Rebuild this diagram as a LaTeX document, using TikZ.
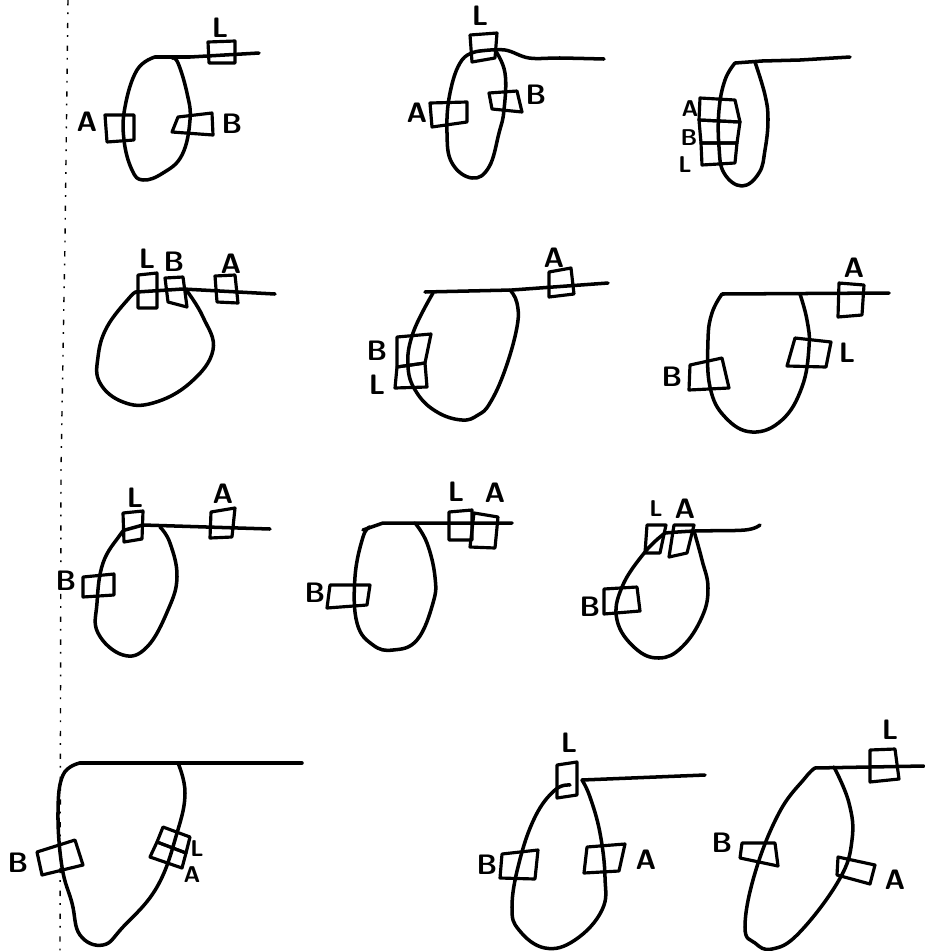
\documentclass[tikz,border=0pt]{standalone}
\usepackage{tikz}

\begin{document}
\begin{tikzpicture}[
  x=0.02cm, y=-0.02cm,
  tape/.style={line width=2pt, line cap=round, line join=round, black},
  clamp/.style={line width=1.8pt, line join=round, black},
  margin/.style={line width=0.8pt, black, dash pattern=on 3pt off 4pt on 1pt off 5pt},
  tag/.style={font=\fontsize{16}{16}\sffamily\bfseries, inner sep=0pt},
  smalltag/.style={font=\fontsize{13}{13}\sffamily\bfseries, inner sep=0pt}
]
\useasboundingbox (0,0) rectangle (924,951);

% margin line down the left side
\draw[margin] (68,0) -- (65,240) -- (61,470) -- (60,951);

% row 1, left
\draw[tape] (259,53) -- (190,57) -- (155,57);
\draw[tape] plot[smooth, tension=.7] coordinates {(155,57) (137,70) (125,107) (124,140) (132,170) (143,180) (163,173) (182,155) (190,120) (187,93) (178,63) (172,58)};
\draw[clamp] (208,42) -- (235,41) -- (235,63) -- (209,63) -- cycle;
\draw[clamp] (105,115) -- (134,115) -- (134,140) -- (107,142) -- cycle;
\draw[clamp] (178,117) -- (212,113) -- (213,135) -- (172,132) -- cycle;
\node[tag] (l1) at (220,28) {L};
\node[tag] (a1) at (87,122) {A};
\node[tag] (b1) at (232,124) {B};

% row 1, middle
\draw[tape] plot[smooth, tension=.6] coordinates {(604,59) (560,58) (529,58) (505,50) (480,51)};
\draw[tape] plot[smooth, tension=.7] coordinates {(480,51) (462,60) (450,93) (447,133) (452,163) (472,178) (489,167) (499,133) (504,110) (505,73) (495,50)};
\draw[clamp] (470,35) -- (497,33) -- (495,58) -- (472,62) -- cycle;
\draw[clamp] (430,103) -- (467,102) -- (467,122) -- (432,127) -- cycle;
\draw[clamp] (489,93) -- (517,91) -- (522,112) -- (492,109) -- cycle;
\node[tag] (l2) at (480,16) {L};
\node[tag] (a2) at (417,113) {A};
\node[tag] (b2) at (536,95) {B};

% row 1, right
\draw[tape] (850,57) -- (800,60) -- (762,61) -- (735,63);
\draw[tape] plot[smooth, tension=.7] coordinates {(735,63) (725,80) (719,110) (719,147) (724,173) (742,186) (759,173) (765,150) (768,120) (765,95) (755,62)};
\draw[clamp] (700,98) -- (735,100) -- (740,122) -- (699,120) -- cycle;
\draw[clamp] (699,120) -- (740,122) -- (737,143) -- (701,143) -- cycle;
\draw[clamp] (701,143) -- (737,143) -- (735,163) -- (702,165) -- cycle;
\node[smalltag] (a3) at (690,109) {A};
\node[smalltag] (b3) at (689,138) {B};
\node[smalltag] (l3) at (685,165) {L};

% row 2, left
\draw[tape] (275,294) -- (183,289) -- (137,292);
\draw[tape] plot[smooth, tension=.7] coordinates {(137,292) (130,297) (107,327) (98,357) (100,383) (123,402) (153,403) (190,383) (213,350) (203,317) (187,291)};
\draw[clamp] (138,275) -- (157,273) -- (157,308) -- (138,308) -- cycle;
\draw[clamp] (165,278) -- (183,277) -- (187,307) -- (168,302) -- cycle;
\draw[clamp] (215,276) -- (235,275) -- (238,303) -- (217,302) -- cycle;
\node[tag] (l4) at (147,259) {L};
\node[tag] (b4) at (174,262) {B};
\node[tag] (a4) at (231,264) {A};

% row 2, middle
\draw[tape] (608,283) -- (512,290) -- (425,292);
\draw[tape] plot[smooth, tension=.7] coordinates {(433,293) (413,333) (408,367) (417,393) (437,412) (462,420) (478,415) (490,403) (505,370) (517,327) (517,303) (510,290)};
\draw[clamp] (549,272) -- (571,268) -- (574,294) -- (549,297) -- cycle;
\draw[clamp] (397,337) -- (431,334) -- (425,363) -- (397,367) -- cycle;
\draw[clamp] (397,367) -- (425,363) -- (427,387) -- (395,388) -- cycle;
\node[tag] (a5) at (554,258) {A};
\node[tag] (b5) at (377,351) {B};
\node[tag] (l5) at (377,385) {L};

% row 2, right
\draw[tape] (889,293) -- (722,294);
\draw[tape] plot[smooth, tension=.7] coordinates {(722,294) (712,313) (708,340) (710,387) (725,417) (752,432) (782,420) (802,387) (809,347) (807,320) (800,294)};
\draw[clamp] (839,283) -- (864,285) -- (862,315) -- (838,317) -- cycle;
\draw[clamp] (795,338) -- (831,342) -- (826,367) -- (787,366) -- cycle;
\draw[clamp] (690,365) -- (722,358) -- (729,388) -- (689,390) -- cycle;
\node[tag] (a6) at (854,268) {A};
\node[tag] (l6) at (847,353) {L};
\node[tag] (b6) at (672,377) {B};

% row 3, left
\draw[tape] (270,529) -- (143,525) -- (125,530);
\draw[tape] plot[smooth, tension=.7] coordinates {(125,530) (120,535) (103,563) (97,603) (98,633) (123,655) (147,647) (168,610) (177,577) (170,543) (160,527)};
\draw[clamp] (123,513) -- (143,511) -- (142,539) -- (124,542) -- cycle;
\draw[clamp] (211,512) -- (235,508) -- (232,537) -- (210,538) -- cycle;
\draw[clamp] (83,577) -- (114,574) -- (114,595) -- (83,597) -- cycle;
\node[tag] (l7) at (135,498) {L};
\node[tag] (a7) at (223,494) {A};
\node[tag] (b7) at (66,581) {B};

% row 3, middle
\draw[tape] (512,523) -- (383,523) -- (363,530);
\draw[tape] plot[smooth, tension=.7] coordinates {(370,527) (363,537) (355,577) (357,623) (373,645) (393,650) (417,640) (433,603) (435,577) (427,543) (415,523)};
\draw[clamp] (449,512) -- (472,510) -- (472,540) -- (449,540) -- cycle;
\draw[clamp] (474,513) -- (498,517) -- (495,548) -- (470,547) -- cycle;
\draw[clamp] (330,585) -- (370,585) -- (367,605) -- (327,608) -- cycle;
\node[tag] (l8) at (456,492) {L};
\node[tag] (a8) at (495,493) {A};
\node[tag] (b8) at (315,593) {B};

% row 3, right
\draw[tape] plot[smooth, tension=.6] coordinates {(760,525) (745,530) (695,531) (665,533)};
\draw[tape] plot[smooth, tension=.7] coordinates {(665,533) (645,552) (622,587) (617,620) (635,648) (659,658) (682,647) (702,617) (708,588) (702,560) (694,531)};
\draw[clamp] (647,525) -- (666,525) -- (660,553) -- (645,553) -- cycle;
\draw[clamp] (674,525) -- (694,525) -- (687,553) -- (669,557) -- cycle;
\draw[clamp] (604,589) -- (637,587) -- (640,611) -- (604,614) -- cycle;
\node[smalltag] (l9) at (656,509) {L};
\node[tag] (a9) at (685,509) {A};
\node[tag] (b9) at (590,607) {B};

% row 4, left
\draw[tape] (302,763) -- (80,763);
\draw[tape] plot[smooth, tension=.7] coordinates {(80,763) (63,775) (58,813) (62,867) (72,903) (80,935) (103,945) (123,927) (157,887) (177,833) (185,793) (178,763)};
\draw[clamp] (37,852) -- (75,840) -- (83,865) -- (42,875) -- cycle;
\draw[clamp] (163,827) -- (190,837) -- (186,853) -- (157,842) -- cycle;
\draw[clamp] (157,842) -- (186,853) -- (182,868) -- (150,857) -- cycle;
\node[tag] (b10) at (18,863) {B};
\node[smalltag] (l10) at (197,849) {L};
\node[smalltag] (a10) at (192,875) {A};

% row 4, middle
\draw[tape] (705,775) -- (582,780);
\draw[tape] plot[smooth, tension=.7] coordinates {(570,785) (555,790) (535,817) (519,863) (512,907) (519,930) (545,948) (575,940) (602,910) (605,877) (600,833) (590,797) (582,780)};
\draw[clamp] (557,765) -- (577,762) -- (577,795) -- (557,798) -- cycle;
\draw[clamp] (502,854) -- (538,850) -- (535,879) -- (500,878) -- cycle;
\draw[clamp] (587,847) -- (625,844) -- (619,871) -- (584,873) -- cycle;
\node[tag] (l11) at (569,743) {L};
\node[tag] (b11) at (487,865) {B};
\node[tag] (a11) at (646,860) {A};

% row 4, right
\draw[tape] (924,766) -- (815,768);
\draw[tape] plot[smooth, tension=.7] coordinates {(815,768) (805,778) (779,813) (755,873) (745,927) (755,943) (772,949) (799,933) (839,880) (852,840) (849,803) (834,767)};
\draw[clamp] (870,750) -- (895,749) -- (899,779) -- (870,782) -- cycle;
\draw[clamp] (742,843) -- (775,843) -- (778,866) -- (740,858) -- cycle;
\draw[clamp] (838,857) -- (875,865) -- (870,884) -- (837,875) -- cycle;
\node[tag] (l12) at (890,730) {L};
\node[tag] (b12) at (722,843) {B};
\node[tag] (a12) at (895,880) {A};

\end{tikzpicture}
\end{document}
